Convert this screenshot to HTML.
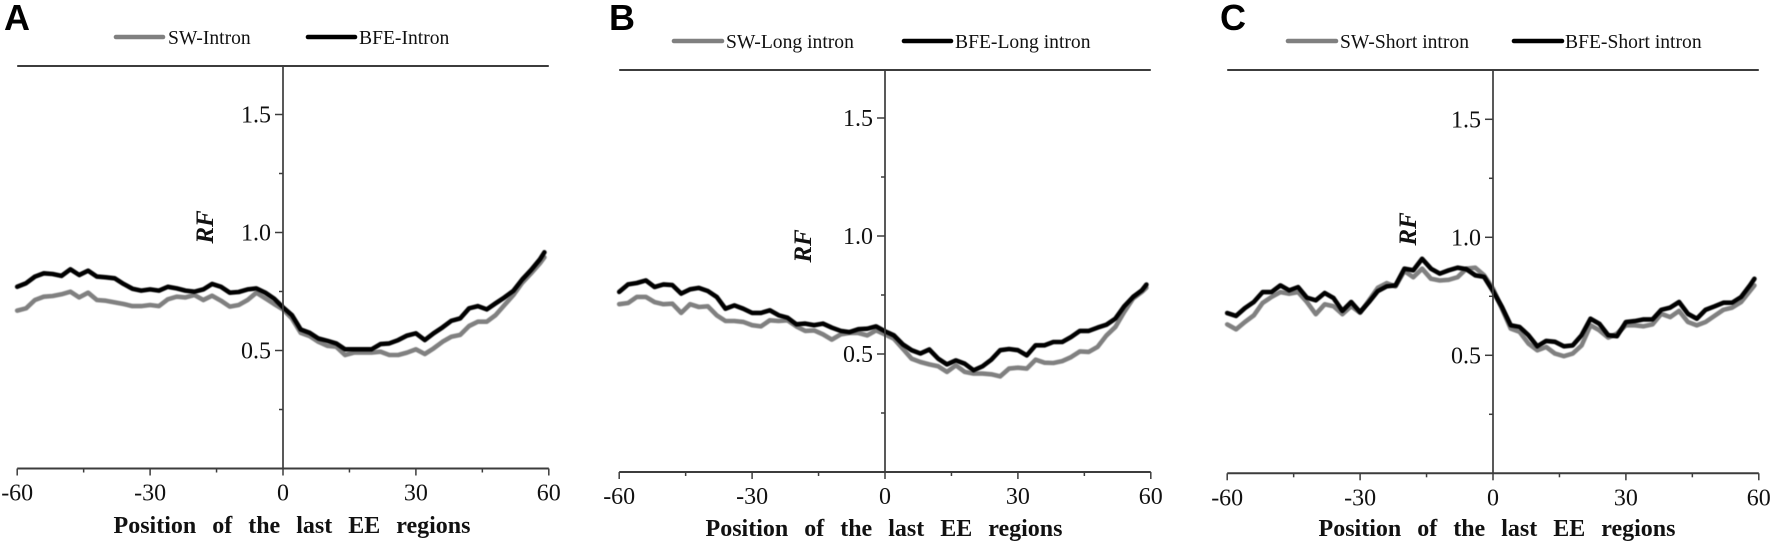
<!DOCTYPE html>
<html>
<head>
<meta charset="utf-8">
<title>RF around last EE regions</title>
<style>
html,body{margin:0;padding:0;background:#fff;}
svg{display:block;}
text{font-family:"Liberation Serif",serif;fill:#111;}
.letter{font-family:"Liberation Sans",sans-serif;font-weight:700;font-size:36px;fill:#000;}
.legend{font-size:19.6px;}
.title{font-weight:700;font-size:24px;word-spacing:10px;text-anchor:middle;}
.rf{font-weight:700;font-style:italic;font-size:25px;text-anchor:middle;}
.tick{font-size:24px;}
</style>
</head>
<body>
<svg id="figure" width="1772" height="543" viewBox="0 0 1772 543" xmlns="http://www.w3.org/2000/svg">
  <defs><filter id="soft" x="-5%" y="-5%" width="110%" height="110%"><feGaussianBlur stdDeviation="0.45"/></filter></defs>
  <rect width="1772" height="543" fill="#fff"/>

  <g id="panel-a">
    <text class="letter" x="4" y="30">A</text>
    <line x1="116" x2="163" y1="37" y2="37" stroke="#808080" stroke-width="4.6" stroke-linecap="round"/>
    <text class="legend" x="168" y="44">SW-Intron</text>
    <line x1="308" x2="355" y1="37" y2="37" stroke="#000" stroke-width="4.6" stroke-linecap="round"/>
    <text class="legend" x="359" y="44">BFE-Intron</text>
    <text class="rf" transform="translate(213,227) rotate(-90)">RF</text>
    <text class="title" x="292" y="533">Position of the last EE regions</text>
  </g>

  <g id="panel-b">
    <text class="letter" x="609" y="30">B</text>
    <line x1="674" x2="722" y1="41" y2="41" stroke="#808080" stroke-width="4.6" stroke-linecap="round"/>
    <text class="legend" x="726" y="48">SW-Long intron</text>
    <line x1="904" x2="951" y1="41" y2="41" stroke="#000" stroke-width="4.6" stroke-linecap="round"/>
    <text class="legend" x="955" y="48">BFE-Long intron</text>
    <text class="rf" transform="translate(811,246) rotate(-90)">RF</text>
    <text class="title" x="884" y="536">Position of the last EE regions</text>
  </g>

  <g id="panel-c">
    <text class="letter" x="1220" y="30">C</text>
    <line x1="1288" x2="1336" y1="41" y2="41" stroke="#808080" stroke-width="4.6" stroke-linecap="round"/>
    <text class="legend" x="1340" y="48">SW-Short intron</text>
    <line x1="1514" x2="1562" y1="41" y2="41" stroke="#000" stroke-width="4.6" stroke-linecap="round"/>
    <text class="legend" x="1565" y="48">BFE-Short intron</text>
    <text class="rf" transform="translate(1416,229) rotate(-90)">RF</text>
    <text class="title" x="1497" y="536">Position of the last EE regions</text>
  </g>
</svg>

<script>
const positions = [-60,-58,-56,-54,-52,-50,-48,-46,-44,-42,-40,-38,-36,-34,-32,-30,-28,-26,-24,-22,-20,-18,-16,-14,-12,-10,-8,-6,-4,-2,0,2,4,6,8,10,12,14,16,18,20,22,24,26,28,30,32,34,36,38,40,42,44,46,48,50,52,54,56,58,59];

const swIntron = [.669,.679,.714,.728,.731,.738,.749,.725,.745,.714,.711,.704,.697,.688,.688,.693,.688,.717,.728,.725,.735,.714,.732,.711,.686,.693,.714,.745,.721,.697,.674,.636,.575,.561,.537,.520,.516,.481,.491,.491,.491,.495,.481,.481,.491,.505,.485,.509,.537,.558,.566,.604,.622,.622,.650,.693,.735,.787,.827,.869,.895];
const bfeIntron = [.770,.785,.813,.827,.824,.816,.844,.820,.838,.813,.810,.806,.782,.762,.754,.759,.754,.770,.763,.754,.749,.759,.782,.770,.745,.748,.759,.763,.745,.720,.683,.650,.589,.575,.551,.541,.530,.505,.505,.505,.505,.527,.530,.544,.563,.573,.544,.573,.598,.626,.636,.679,.688,.674,.700,.725,.753,.801,.841,.886,.916];

const swLong = [.711,.716,.742,.742,.720,.711,.713,.674,.711,.699,.702,.664,.640,.640,.636,.622,.617,.643,.640,.643,.617,.598,.600,.583,.561,.583,.589,.589,.579,.600,.583,.565,.523,.480,.466,.456,.448,.424,.452,.424,.417,.417,.414,.405,.438,.442,.438,.476,.463,.462,.470,.487,.511,.509,.530,.579,.615,.678,.735,.763,.781];
const bfeLong = [.763,.795,.801,.812,.784,.795,.792,.756,.774,.780,.767,.742,.692,.706,.692,.674,.674,.685,.664,.654,.626,.629,.622,.629,.612,.598,.593,.605,.607,.617,.596,.579,.541,.516,.502,.519,.480,.456,.473,.459,.431,.448,.476,.516,.521,.516,.494,.537,.537,.551,.551,.572,.598,.598,.612,.624,.650,.702,.742,.770,.794];

const swShort = [.631,.610,.641,.669,.722,.747,.768,.761,.768,.726,.674,.716,.708,.674,.708,.680,.733,.786,.806,.792,.857,.831,.867,.824,.817,.820,.831,.867,.871,.839,.782,.698,.613,.599,.550,.521,.535,.507,.496,.507,.542,.627,.606,.575,.592,.627,.627,.623,.631,.676,.662,.688,.641,.627,.641,.667,.693,.702,.726,.772,.796];
const bfeShort = [.679,.667,.700,.726,.768,.768,.796,.775,.789,.744,.733,.764,.743,.688,.726,.683,.726,.772,.792,.796,.867,.860,.909,.867,.846,.860,.871,.865,.839,.832,.772,.705,.627,.620,.585,.538,.561,.557,.538,.542,.585,.655,.634,.585,.581,.641,.645,.652,.652,.693,.702,.726,.676,.655,.693,.707,.723,.723,.747,.796,.824];

const xTickValues = [-60,-45,-30,-15,0,15,30,45,60];
const xTickLabels = ["-60","","-30","","0","","30","","60"];
const yTickValues = [0.25,0.5,0.75,1.0,1.25,1.5];
const yTickLabels = ["","0.5","","1.0","","1.5"];

const panels = [
  {id:"a", x0:283, y0:468.5, top:66, sw:swIntron, bfe:bfeIntron},
  {id:"b", x0:885, y0:472, top:70, sw:swLong, bfe:bfeLong},
  {id:"c", x0:1493, y0:473.3, top:70, sw:swShort, bfe:bfeShort}
];

const NS = "http://www.w3.org/2000/svg";
const X_UNIT = 4.43;
const Y_UNIT = 236;
const AXIS = "#3c3c3c";

function make(tag, attrs, parent){
  const el = document.createElementNS(NS, tag);
  for (const k in attrs) el.setAttribute(k, attrs[k]);
  parent.appendChild(el);
  return el;
}

panels.forEach(function(p){
  const g = document.getElementById("panel-" + p.id);
  const xs = function(v){ return p.x0 + v * X_UNIT; };
  const ys = function(v){ return p.y0 - v * Y_UNIT; };

  const series = [
    {key:"sw", color:"#808080", values:p.sw},
    {key:"bfe", color:"#000", values:p.bfe}
  ];
  series.forEach(function(s){
    const d = s.values.map(function(v,i){
      return (i ? "L" : "M") + xs(positions[i]).toFixed(1) + " " + ys(v).toFixed(1);
    }).join(" ");
    const line = make("path", {d:d, fill:"none", stroke:s.color, "stroke-width":4.6, "stroke-linejoin":"round", "stroke-linecap":"round", filter:"url(#soft)"}, g);
    
    
  });

  const xAxis = make("line", {x1:xs(-60), x2:xs(60), y1:p.y0, y2:p.y0, stroke:AXIS, "stroke-width":2}, g);
  
  

  const topAxis = make("line", {x1:xs(-60), x2:xs(60), y1:p.top, y2:p.top, stroke:AXIS, "stroke-width":2}, g);
  
  

  const yAxis = make("line", {x1:p.x0, x2:p.x0, y1:p.top, y2:p.y0, stroke:AXIS, "stroke-width":1.7}, g);
  
  

  xTickValues.forEach(function(v,i){
    const major = xTickLabels[i] !== "";
    const t = make("line", {x1:xs(v), x2:xs(v), y1:p.y0, y2:p.y0 + (major ? 7 : 4), stroke:AXIS, "stroke-width":1.5}, g);
    
    
    if (major) {
      const lab = make("text", {class:"tick", x:xs(v), y:p.y0 + 32, "text-anchor":"middle"}, g);
      lab.textContent = xTickLabels[i];
      
      
    }
  });

  yTickValues.forEach(function(v,i){
    const major = yTickLabels[i] !== "";
    const t = make("line", {x1:p.x0 - (major ? 8 : 4), x2:p.x0, y1:ys(v), y2:ys(v), stroke:AXIS, "stroke-width":1.5}, g);
    
    
    if (major) {
      const lab = make("text", {class:"tick", x:p.x0 - 12, y:ys(v) + 8, "text-anchor":"end"}, g);
      lab.textContent = yTickLabels[i];
      
      
    }
  });
});
</script>
</body>
</html>
